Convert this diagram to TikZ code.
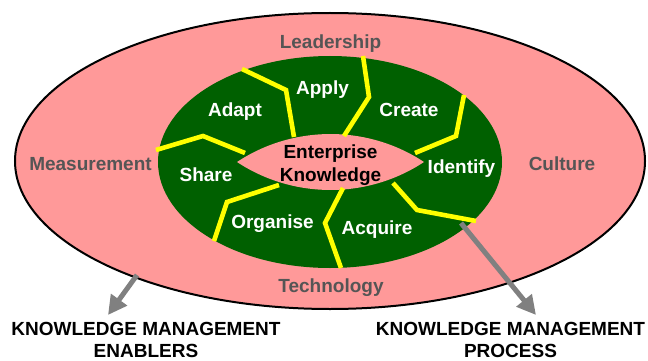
\documentclass[tikz,border=0pt]{standalone}
\usepackage{fontspec}
\setmainfont{Liberation Sans}
\usetikzlibrary{arrows.meta,shapes.geometric}
\definecolor{kpink}{HTML}{FF9999}
\definecolor{kgreen}{HTML}{006000}
\definecolor{kyellow}{HTML}{FFFF00}
\definecolor{kgraytext}{HTML}{555555}
\definecolor{karrow}{HTML}{808080}
\begin{document}
\begin{tikzpicture}[x=1pt,y=-1pt,
  lbl/.style={font=\fontsize{19}{24}\selectfont\bfseries, inner sep=0pt, anchor=base},
  enabler/.style={lbl, text=kgraytext},
  stage/.style={lbl, text=white},
  core/.style={lbl, font=\fontsize{19}{23}\selectfont\bfseries, text=black, align=center},
  caption/.style={lbl, font=\fontsize{19}{22}\selectfont\bfseries, text=black, align=center},
  divider/.style={draw=kyellow, line width=4.6pt},
  bigarrow/.style={draw=karrow, line width=5pt, -{Triangle[length=19pt,width=19pt]}}]
\useasboundingbox (0,0) rectangle (648,361);
% rings
\node[ellipse, draw=black, line width=2pt, fill=kpink, minimum width=630pt, minimum height=296pt, inner sep=0pt] (outer) at (330,161) {};
\node[ellipse, fill=kgreen, minimum width=344pt, minimum height=212pt, inner sep=0pt] (process) at (330,162) {};
% central lens
\fill[kpink] (237,162) .. controls (293.5,124.7) and (367.5,124.7) .. (424,162)
              .. controls (367.5,199.3) and (293.5,199.3) .. (237,162) -- cycle;
% yellow dividers
\draw[divider] (242,69) -- (286,90) -- (294,137);
\draw[divider] (156,150) -- (203,136) -- (245,153);
\draw[divider] (363,56) -- (369,97) -- (344,136);
\draw[divider] (464,95) -- (456,136) -- (415,153);
\draw[divider] (393,183) -- (417,210) -- (476,221);
\draw[divider] (343,188) -- (325,223) -- (341,268);
\draw[divider] (279,185) -- (227,202) -- (214,241);
% enablers
\node[enabler] (leadership) at (330.5,49) {Leadership};
\node[enabler] (measurement) at (90.5,170) {Measurement};
\node[enabler] (culture) at (562,170) {Culture};
\node[enabler] (technology) at (331,292) {Technology};
% process stages
\node[stage] (adapt) at (235,117) {Adapt};
\node[stage] (apply) at (322.5,94) {Apply};
\node[stage] (create) at (409,117) {Create};
\node[stage] (identify) at (461.5,173) {Identify};
\node[stage] (share) at (206,181) {Share};
\node[stage] (organise) at (272.5,228) {Organise};
\node[stage] (acquire) at (377,234) {Acquire};
% core
\node[core] (enterprise) at (330.5,181) {Enterprise\\Knowledge};
% captions
\node[caption] (enablers) at (146,357.5) {KNOWLEDGE MANAGEMENT\\ENABLERS};
\node[caption] (processlbl) at (510.5,357.5) {KNOWLEDGE MANAGEMENT\\PROCESS};
% arrows
\coordinate (enablersTail) at (137,275);
\coordinate (enablersTip) at (108,315);
\coordinate (processTail) at (461,223);
\coordinate (processTip) at (536,315);
\draw[bigarrow] (enablersTail) -- (enablersTip);
\draw[bigarrow] (processTail) -- (processTip);
\end{tikzpicture}
\end{document}
